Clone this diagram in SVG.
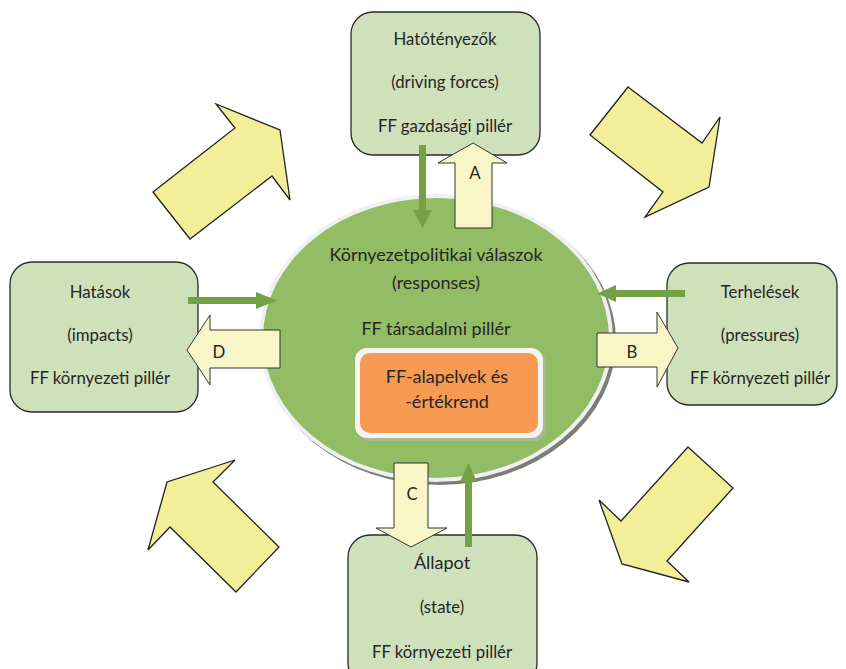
<svg xmlns="http://www.w3.org/2000/svg" width="846" height="669" viewBox="0 0 846 669">
<defs>
<style>
.box{fill:#cfe1bb;stroke:#2a2a2a;stroke-width:1.3}
.big{fill:#f2ef98;stroke:#222;stroke-width:1.3;stroke-linejoin:miter}
.sm{fill:#f8f6c6;stroke:#333;stroke-width:1}
.ga{fill:#76a046;stroke:none}
text{font-family:Lato,"Open Sans","Liberation Sans",sans-serif;fill:#262626;text-anchor:middle}
.t{font-size:16.8px}
.c{font-size:18px}
</style>
</defs>
<rect width="846" height="669" fill="#fff"/>
<g id="center">
<ellipse cx="439" cy="341" rx="177" ry="144" fill="#7c7e74"/>
<ellipse cx="436" cy="338" rx="177" ry="144" fill="#eef0f3"/>
<ellipse cx="436" cy="338" rx="173" ry="140" fill="#92bd64"/>
<text class="c" x="436" y="261">Környezetpolitikai válaszok</text>
<text class="c" x="436" y="289">(responses)</text>
<text class="c" x="436" y="335">FF társadalmi pillér</text>
</g>
<g id="core">
<rect x="358" y="351" width="188" height="90" rx="12" fill="#b9b9a8" opacity="0.6"/>
<rect x="355" y="348" width="188" height="90" rx="12" fill="#f4f4f4"/>
<rect x="360" y="353" width="178" height="80" rx="10" fill="#f79a52"/>
<text class="c" x="447" y="383">FF-alapelvek és</text>
<text class="c" x="447" y="408">-értékrend</text>
</g>
<g id="driving">
<rect class="box" x="351" y="12" width="189" height="143" rx="22"/>
<text class="t" x="445" y="45">Hatótényezők</text>
<text class="t" x="445" y="88">(driving forces)</text>
<text class="t" x="445" y="132">FF gazdasági pillér</text>
</g>
<g id="impacts">
<rect class="box" x="10" y="262" width="188" height="150" rx="22"/>
<text class="t" x="100" y="298">Hatások</text>
<text class="t" x="100" y="341">(impacts)</text>
<text class="t" x="100" y="384">FF környezeti pillér</text>
</g>
<g id="pressures">
<rect class="box" x="667" y="263" width="170" height="142" rx="22"/>
<text class="t" x="760" y="298">Terhelések</text>
<text class="t" x="760" y="341">(pressures)</text>
<text class="t" x="760" y="384">FF környezeti pillér</text>
</g>
<g id="state">
<rect class="box" x="348" y="535" width="189" height="150" rx="22"/>
<text class="c" x="442" y="569">Állapot</text>
<text class="t" x="442" y="613">(state)</text>
<text class="t" x="442" y="658">FF környezeti pillér</text>
</g>
<g id="connectors">
<polygon class="big" points="153,192 235,128 216,104 280,130 290,200 272,176 190,239"/>
<polygon class="big" points="628,87 702,143 720,117 709,187 645,217 663,192 590,135"/>
<polygon class="big" points="688,447 733,488 667,561 689,582 622,564 599,500 621,521"/>
<polygon class="big" points="235,460 213,482 279,547 236,592 170,527 148,550 167,482"/>
<polygon class="ga" points="419,145 426,145 426,210 432,210 422.5,228 413,210 419,210"/>
<polygon class="sm" points="455,228 455,163 438,163 473,143 507,163 492,163 492,228"/>
<text class="t" x="475" y="179">A</text>
<polygon class="ga" points="188,297 256,297 256,292 277,300.5 256,309 256,304 188,304"/>
<polygon class="sm" points="280,330 210,330 210,315 187,350 210,385 210,368 280,368"/>
<text class="t" x="219" y="358">D</text>
<polygon class="ga" points="685,290 616,290 616,285 597,293.5 616,302 616,297 685,297"/>
<polygon class="sm" points="597,333 657,333 657,312 678,348 657,387 657,367 597,367"/>
<text class="t" x="632" y="358">B</text>
<polygon class="sm" points="394,463 428,463 428,528 447,528 411,547 376,528 394,528"/>
<text class="t" x="412" y="500">C</text>
<polygon class="ga" points="465,547 472,547 472,482 477,482 468.5,463 460,482 465,482"/>
</g>
</svg>
